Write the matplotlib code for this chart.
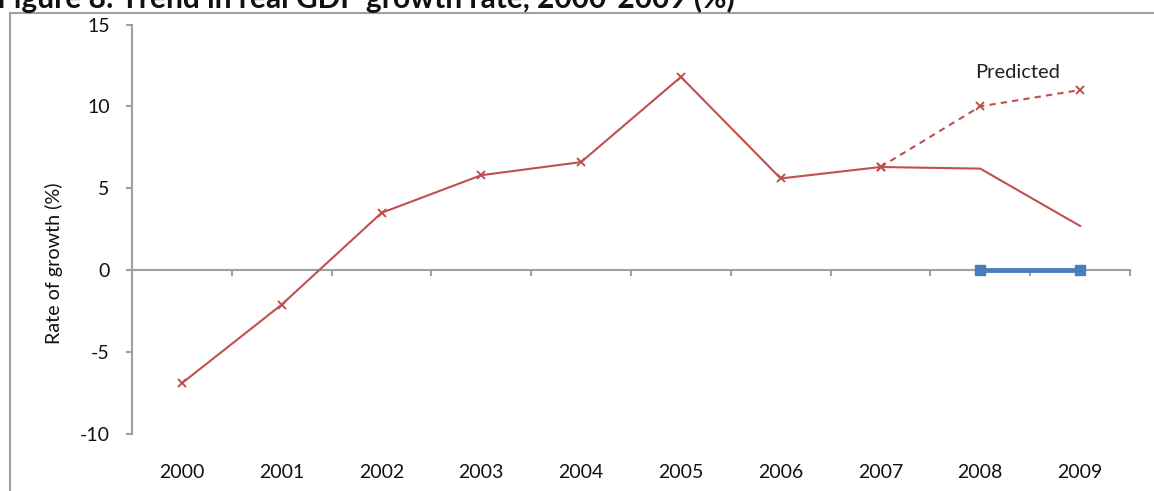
import matplotlib
matplotlib.use("Agg")
import matplotlib.pyplot as plt
import matplotlib.transforms as mtrans
from matplotlib.lines import Line2D

plt.rcParams['font.family'] = ['Lato', 'DejaVu Sans']
plt.rcParams['axes.unicode_minus'] = False

# данные: реальный рост ВВП, прогноз и нулевая серия
years = ["2000", "2001", "2002", "2003", "2004", "2005", "2006", "2007", "2008", "2009"]
growth = [-6.9, -2.1, 3.5, 5.8, 6.6, 11.8, 5.6, 6.3, 6.2, 2.7]
pred_years = ["2007", "2008", "2009"]
predicted = [6.3, 10.0, 11.0]
base_years = ["2008", "2009"]
base_values = [0, 0]

red = "#C0504D"
blue = "#4A7EBB"
grey = "#A0A0A0"
txt = "#111111"

fig = plt.figure(figsize=(11.54, 4.91), dpi=100)
ax = fig.add_axes([132/1154, 57/491, 998/1154, 409.5/491])

xpos = {y: i for i, y in enumerate(years)}

ax.plot([xpos[y] for y in years], growth, color=red, lw=1.5, marker="x",
        markersize=6, mew=1.4, markevery=list(range(8)), zorder=3)
ax.plot([xpos[y] for y in pred_years], predicted, color=red, lw=1.5,
        linestyle=(0, (3, 2.5)), marker="x", markersize=6, mew=1.4, zorder=3)
ax.plot([xpos[y] for y in base_years], base_values, color=blue, lw=3.5,
        marker="s", markersize=6.5, zorder=4, clip_on=False)

ax.text(8.37, 12.1, "Predicted", fontsize=14.5, ha="center", va="center", color="#222222")

ax.set_xlim(-0.5, 9.5)
ax.set_ylim(-10, 15)
ax.set_yticks([-10, -5, 0, 5, 10, 15])
ax.set_xticks([i - 0.5 for i in range(len(years) + 1)])
ax.set_xticklabels([])

# оси в стиле Excel: горизонтальная ось проходит через ноль
for side in ["top", "right"]:
    ax.spines[side].set_visible(False)
ax.spines["bottom"].set_position(("data", 0))
for side in ["left", "bottom"]:
    ax.spines[side].set_color(grey)
    ax.spines[side].set_linewidth(1.5)
ax.tick_params(axis="both", direction="out", length=4, width=1.5, color=grey)
ax.tick_params(axis="y", labelsize=14, pad=12, labelcolor=txt)

# подписи годов внизу графика
tr = mtrans.blended_transform_factory(ax.transData, ax.transAxes)
for y in years:
    ax.text(xpos[y], -0.095, y, transform=tr, ha="center", va="center",
            fontsize=14, color=txt)

ax.set_ylabel("Rate of growth (%)", fontsize=14.2, color=txt)
ax.yaxis.set_label_coords(-0.069, 0.416)

# рамка вокруг рисунка
fig.add_artist(Line2D([10/1154, 10/1154], [0, 478/491], color=grey, lw=1.5))
fig.add_artist(Line2D([10/1154, 1], [478/491, 478/491], color=grey, lw=1.5))

fig.text(-0.003, 483/491, "Figure 8: Trend in real GDP growth rate, 2000-2009 (%)",
         fontsize=21.5, fontweight="bold", ha="left", va="baseline", color=txt)

fig.savefig("out.png", dpi=100)
